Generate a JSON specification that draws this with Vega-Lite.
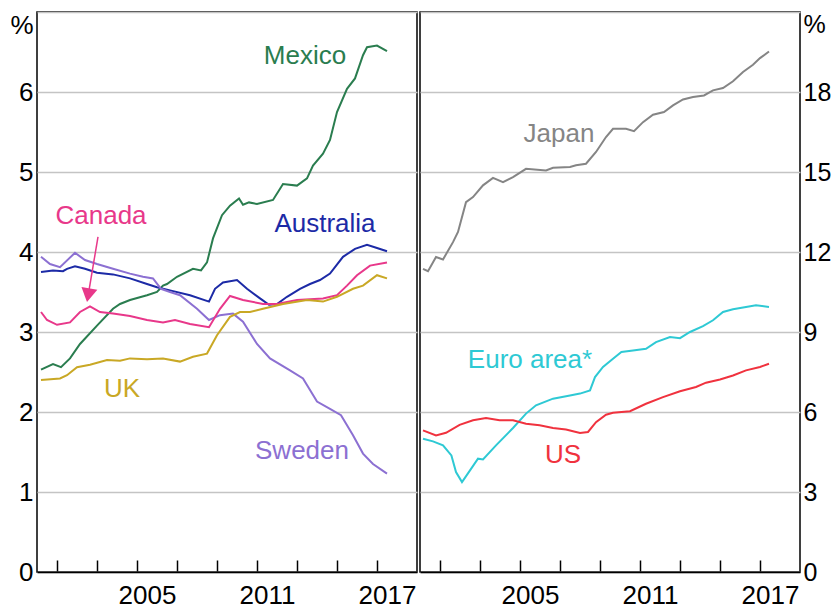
{
  "$schema": "https://vega.github.io/schema/vega-lite/v6.json",
  "padding": {"left": 9, "top": 11, "right": 0, "bottom": 0},
  "spacing": 0,
  "background": "white",
  "config": {
    "view": {"stroke": "#000000", "strokeWidth": 1.5},
    "font": "Liberation Sans",
    "axis": {"labelFont": "Liberation Sans", "labelFontSize": 26, "labelColor": "#000000", "title": null}
  },
  "datasets": {
    "left": [
      {"s":"Mexico","t":2000.2,"v":2.53},{"s":"Mexico","t":2000.8,"v":2.6},{"s":"Mexico","t":2001.2,"v":2.56},{"s":"Mexico","t":2001.65,"v":2.67},{"s":"Mexico","t":2002.15,"v":2.85},{"s":"Mexico","t":2003,"v":3.08},{"s":"Mexico","t":2003.8,"v":3.29},{"s":"Mexico","t":2004.15,"v":3.35},{"s":"Mexico","t":2004.65,"v":3.4},{"s":"Mexico","t":2005.5,"v":3.46},{"s":"Mexico","t":2006,"v":3.5},{"s":"Mexico","t":2006.3,"v":3.58},{"s":"Mexico","t":2006.5,"v":3.6},{"s":"Mexico","t":2007,"v":3.69},{"s":"Mexico","t":2007.8,"v":3.79},{"s":"Mexico","t":2008.2,"v":3.77},{"s":"Mexico","t":2008.5,"v":3.87},{"s":"Mexico","t":2008.8,"v":4.17},{"s":"Mexico","t":2009.25,"v":4.46},{"s":"Mexico","t":2009.65,"v":4.58},{"s":"Mexico","t":2010.1,"v":4.67},{"s":"Mexico","t":2010.3,"v":4.59},{"s":"Mexico","t":2010.6,"v":4.62},{"s":"Mexico","t":2011,"v":4.6},{"s":"Mexico","t":2011.8,"v":4.65},{"s":"Mexico","t":2012.3,"v":4.85},{"s":"Mexico","t":2013,"v":4.83},{"s":"Mexico","t":2013.5,"v":4.92},{"s":"Mexico","t":2013.8,"v":5.08},{"s":"Mexico","t":2014.3,"v":5.23},{"s":"Mexico","t":2014.65,"v":5.4},{"s":"Mexico","t":2015,"v":5.75},{"s":"Mexico","t":2015.5,"v":6.04},{"s":"Mexico","t":2015.9,"v":6.17},{"s":"Mexico","t":2016.3,"v":6.46},{"s":"Mexico","t":2016.5,"v":6.56},{"s":"Mexico","t":2017,"v":6.58},{"s":"Mexico","t":2017.5,"v":6.51},
      {"s":"Australia","t":2000.2,"v":3.75},{"s":"Australia","t":2000.8,"v":3.77},{"s":"Australia","t":2001.3,"v":3.76},{"s":"Australia","t":2001.5,"v":3.79},{"s":"Australia","t":2001.9,"v":3.82},{"s":"Australia","t":2002.4,"v":3.79},{"s":"Australia","t":2003,"v":3.74},{"s":"Australia","t":2003.8,"v":3.72},{"s":"Australia","t":2004.65,"v":3.67},{"s":"Australia","t":2005.5,"v":3.6},{"s":"Australia","t":2006,"v":3.56},{"s":"Australia","t":2006.65,"v":3.52},{"s":"Australia","t":2007.65,"v":3.46},{"s":"Australia","t":2008.6,"v":3.38},{"s":"Australia","t":2008.9,"v":3.54},{"s":"Australia","t":2009.3,"v":3.62},{"s":"Australia","t":2010,"v":3.65},{"s":"Australia","t":2010.5,"v":3.54},{"s":"Australia","t":2011.15,"v":3.42},{"s":"Australia","t":2011.6,"v":3.34},{"s":"Australia","t":2012,"v":3.35},{"s":"Australia","t":2012.5,"v":3.44},{"s":"Australia","t":2013.15,"v":3.54},{"s":"Australia","t":2013.65,"v":3.6},{"s":"Australia","t":2014.15,"v":3.65},{"s":"Australia","t":2014.65,"v":3.73},{"s":"Australia","t":2015.3,"v":3.94},{"s":"Australia","t":2015.9,"v":4.04},{"s":"Australia","t":2016.5,"v":4.09},{"s":"Australia","t":2017,"v":4.05},{"s":"Australia","t":2017.5,"v":4.01},
      {"s":"Sweden","t":2000.2,"v":3.94},{"s":"Sweden","t":2000.65,"v":3.85},{"s":"Sweden","t":2001.15,"v":3.81},{"s":"Sweden","t":2001.9,"v":3.99},{"s":"Sweden","t":2002.4,"v":3.9},{"s":"Sweden","t":2003,"v":3.85},{"s":"Sweden","t":2003.8,"v":3.79},{"s":"Sweden","t":2004.65,"v":3.73},{"s":"Sweden","t":2005.3,"v":3.69},{"s":"Sweden","t":2005.8,"v":3.67},{"s":"Sweden","t":2006.2,"v":3.54},{"s":"Sweden","t":2006.65,"v":3.5},{"s":"Sweden","t":2007.15,"v":3.46},{"s":"Sweden","t":2008,"v":3.29},{"s":"Sweden","t":2008.6,"v":3.15},{"s":"Sweden","t":2009.15,"v":3.21},{"s":"Sweden","t":2009.8,"v":3.23},{"s":"Sweden","t":2010.3,"v":3.13},{"s":"Sweden","t":2011,"v":2.85},{"s":"Sweden","t":2011.65,"v":2.67},{"s":"Sweden","t":2012.65,"v":2.52},{"s":"Sweden","t":2013.3,"v":2.42},{"s":"Sweden","t":2014,"v":2.13},{"s":"Sweden","t":2014.65,"v":2.04},{"s":"Sweden","t":2015.2,"v":1.96},{"s":"Sweden","t":2015.8,"v":1.71},{"s":"Sweden","t":2016.3,"v":1.48},{"s":"Sweden","t":2016.8,"v":1.35},{"s":"Sweden","t":2017.5,"v":1.23},
      {"s":"Canada","t":2000.2,"v":3.25},{"s":"Canada","t":2000.5,"v":3.15},{"s":"Canada","t":2001,"v":3.09},{"s":"Canada","t":2001.65,"v":3.12},{"s":"Canada","t":2002.15,"v":3.25},{"s":"Canada","t":2002.65,"v":3.32},{"s":"Canada","t":2003.15,"v":3.25},{"s":"Canada","t":2003.8,"v":3.23},{"s":"Canada","t":2004.65,"v":3.2},{"s":"Canada","t":2005.5,"v":3.15},{"s":"Canada","t":2006.3,"v":3.12},{"s":"Canada","t":2006.9,"v":3.15},{"s":"Canada","t":2007.65,"v":3.1},{"s":"Canada","t":2008.6,"v":3.06},{"s":"Canada","t":2009.15,"v":3.29},{"s":"Canada","t":2009.65,"v":3.45},{"s":"Canada","t":2010.3,"v":3.4},{"s":"Canada","t":2011.3,"v":3.35},{"s":"Canada","t":2012,"v":3.35},{"s":"Canada","t":2013,"v":3.4},{"s":"Canada","t":2014.3,"v":3.42},{"s":"Canada","t":2015,"v":3.46},{"s":"Canada","t":2015.5,"v":3.58},{"s":"Canada","t":2016,"v":3.71},{"s":"Canada","t":2016.65,"v":3.83},{"s":"Canada","t":2017.5,"v":3.87},
      {"s":"UK","t":2000.2,"v":2.4},{"s":"UK","t":2001.15,"v":2.42},{"s":"UK","t":2001.5,"v":2.46},{"s":"UK","t":2002,"v":2.56},{"s":"UK","t":2002.65,"v":2.59},{"s":"UK","t":2003.5,"v":2.65},{"s":"UK","t":2004.15,"v":2.64},{"s":"UK","t":2004.65,"v":2.67},{"s":"UK","t":2005.5,"v":2.66},{"s":"UK","t":2006.3,"v":2.67},{"s":"UK","t":2007.15,"v":2.63},{"s":"UK","t":2007.8,"v":2.69},{"s":"UK","t":2008.5,"v":2.73},{"s":"UK","t":2009,"v":2.96},{"s":"UK","t":2009.65,"v":3.19},{"s":"UK","t":2010.15,"v":3.25},{"s":"UK","t":2010.65,"v":3.25},{"s":"UK","t":2011.3,"v":3.29},{"s":"UK","t":2012.3,"v":3.35},{"s":"UK","t":2013.5,"v":3.4},{"s":"UK","t":2014.3,"v":3.38},{"s":"UK","t":2015,"v":3.44},{"s":"UK","t":2015.8,"v":3.54},{"s":"UK","t":2016.3,"v":3.58},{"s":"UK","t":2017,"v":3.71},{"s":"UK","t":2017.5,"v":3.67}
    ],
    "right": [
      {"s":"Japan","t":2000.15,"v":11.37},{"s":"Japan","t":2000.4,"v":11.28},{"s":"Japan","t":2000.8,"v":11.81},{"s":"Japan","t":2001.15,"v":11.72},{"s":"Japan","t":2001.65,"v":12.37},{"s":"Japan","t":2001.9,"v":12.75},{"s":"Japan","t":2002.3,"v":13.87},{"s":"Japan","t":2002.65,"v":14.06},{"s":"Japan","t":2003.15,"v":14.5},{"s":"Japan","t":2003.65,"v":14.78},{"s":"Japan","t":2004.15,"v":14.62},{"s":"Japan","t":2004.65,"v":14.81},{"s":"Japan","t":2005.3,"v":15.12},{"s":"Japan","t":2006.3,"v":15.06},{"s":"Japan","t":2006.65,"v":15.16},{"s":"Japan","t":2007.5,"v":15.19},{"s":"Japan","t":2007.8,"v":15.25},{"s":"Japan","t":2008.3,"v":15.31},{"s":"Japan","t":2008.8,"v":15.75},{"s":"Japan","t":2009.3,"v":16.31},{"s":"Japan","t":2009.65,"v":16.62},{"s":"Japan","t":2010.3,"v":16.62},{"s":"Japan","t":2010.7,"v":16.53},{"s":"Japan","t":2011.15,"v":16.87},{"s":"Japan","t":2011.65,"v":17.15},{"s":"Japan","t":2012.2,"v":17.25},{"s":"Japan","t":2012.65,"v":17.5},{"s":"Japan","t":2013.15,"v":17.72},{"s":"Japan","t":2013.65,"v":17.81},{"s":"Japan","t":2014.2,"v":17.87},{"s":"Japan","t":2014.65,"v":18.06},{"s":"Japan","t":2015.15,"v":18.15},{"s":"Japan","t":2015.65,"v":18.4},{"s":"Japan","t":2016.15,"v":18.75},{"s":"Japan","t":2016.65,"v":19.02},{"s":"Japan","t":2017,"v":19.27},{"s":"Japan","t":2017.45,"v":19.52},
      {"s":"Euro area*","t":2000.15,"v":5.0},{"s":"Euro area*","t":2000.65,"v":4.9},{"s":"Euro area*","t":2001.15,"v":4.75},{"s":"Euro area*","t":2001.57,"v":4.37},{"s":"Euro area*","t":2001.8,"v":3.75},{"s":"Euro area*","t":2002.1,"v":3.37},{"s":"Euro area*","t":2002.5,"v":3.81},{"s":"Euro area*","t":2002.9,"v":4.25},{"s":"Euro area*","t":2003.15,"v":4.22},{"s":"Euro area*","t":2003.8,"v":4.75},{"s":"Euro area*","t":2004.65,"v":5.4},{"s":"Euro area*","t":2005.3,"v":5.94},{"s":"Euro area*","t":2005.8,"v":6.25},{"s":"Euro area*","t":2006.65,"v":6.5},{"s":"Euro area*","t":2007.5,"v":6.62},{"s":"Euro area*","t":2008,"v":6.69},{"s":"Euro area*","t":2008.5,"v":6.81},{"s":"Euro area*","t":2008.75,"v":7.31},{"s":"Euro area*","t":2009.15,"v":7.69},{"s":"Euro area*","t":2009.65,"v":8.0},{"s":"Euro area*","t":2010.07,"v":8.25},{"s":"Euro area*","t":2010.65,"v":8.31},{"s":"Euro area*","t":2011.3,"v":8.37},{"s":"Euro area*","t":2011.8,"v":8.62},{"s":"Euro area*","t":2012.5,"v":8.81},{"s":"Euro area*","t":2013,"v":8.77},{"s":"Euro area*","t":2013.5,"v":9.0},{"s":"Euro area*","t":2014.15,"v":9.22},{"s":"Euro area*","t":2014.65,"v":9.44},{"s":"Euro area*","t":2015.15,"v":9.75},{"s":"Euro area*","t":2015.65,"v":9.85},{"s":"Euro area*","t":2016.3,"v":9.94},{"s":"Euro area*","t":2016.8,"v":10.0},{"s":"Euro area*","t":2017.45,"v":9.94},
      {"s":"US","t":2000.15,"v":5.31},{"s":"US","t":2000.8,"v":5.12},{"s":"US","t":2001.3,"v":5.22},{"s":"US","t":2001.98,"v":5.52},{"s":"US","t":2002.65,"v":5.69},{"s":"US","t":2003.3,"v":5.77},{"s":"US","t":2003.98,"v":5.69},{"s":"US","t":2004.65,"v":5.69},{"s":"US","t":2005.3,"v":5.56},{"s":"US","t":2005.98,"v":5.5},{"s":"US","t":2006.65,"v":5.4},{"s":"US","t":2007.3,"v":5.34},{"s":"US","t":2008,"v":5.21},{"s":"US","t":2008.4,"v":5.25},{"s":"US","t":2008.8,"v":5.62},{"s":"US","t":2009.3,"v":5.9},{"s":"US","t":2009.65,"v":5.97},{"s":"US","t":2010.5,"v":6.03},{"s":"US","t":2011.3,"v":6.31},{"s":"US","t":2012.15,"v":6.56},{"s":"US","t":2013,"v":6.78},{"s":"US","t":2013.8,"v":6.94},{"s":"US","t":2014.3,"v":7.1},{"s":"US","t":2015,"v":7.22},{"s":"US","t":2015.65,"v":7.37},{"s":"US","t":2016.3,"v":7.56},{"s":"US","t":2017,"v":7.69},{"s":"US","t":2017.45,"v":7.81}
    ],
    "leftLabels": [
      {"s":"Mexico","t":2013.4,"v":6.45},
      {"s":"Australia","t":2014.4,"v":4.35},
      {"s":"Canada","t":2003.2,"v":4.45},
      {"s":"UK","t":2004.25,"v":2.29},
      {"s":"Sweden","t":2013.25,"v":1.51}
    ],
    "rightLabels": [
      {"s":"Japan","t":2006.95,"v":16.42},
      {"s":"Euro area*","t":2005.5,"v":7.95},
      {"s":"US","t":2007.15,"v":4.39}
    ],
    "arrow": [
      {"s":"Canada","t":2003.05,"v":4.19,"t2":2002.56,"v2":3.46}
    ]
  },
  "hconcat": [
    {
      "width": 380,
      "height": 560,
      "layer": [
        {
          "data": {"name": "left"},
          "mark": {"type": "line", "strokeWidth": 2},
          "encoding": {
            "x": {"field": "t", "type": "quantitative",
              "scale": {"domain": [2000, 2019], "nice": false, "zero": false},
              "axis": {"orient": "bottom", "values": [2001,2002,2003,2004,2005,2006,2007,2008,2009,2010,2011,2012,2013,2014,2015,2016,2017,2018],
                "format": "d", "labelExpr": "(datum.value==2005||datum.value==2011||datum.value==2017)?datum.label:''",
                "labelOffset": 10, "labelFlush": false, "labelOverlap": false, "ticks": false,
                "grid": true, "gridColor": "#000000", "gridWidth": 1.5, "gridDash": [12, 548], "gridDashOffset": 12,
                "domainColor": "#000000", "domainWidth": 1.5, "labelPadding": 10}},
            "y": {"field": "v", "type": "quantitative",
              "scale": {"domain": [0, 7], "nice": false},
              "axis": {"orient": "left", "values": [0,1,2,3,4,5,6,7], "format": "d",
                "labelExpr": "datum.value==7?'%':datum.label",
                "labelBaseline": {"condition": {"test": "datum.value==7", "value": "top"}, "value": "middle"},
                "ticks": false, "domain": false, "grid": true, "gridColor": "#c4c4c4", "gridWidth": 1.5, "labelPadding": 4}},
            "color": {"field": "s", "type": "nominal",
              "scale": {"domain": ["Mexico","Australia","Canada","UK","Sweden","Japan","Euro area*","US"], "range": ["#2a7d4f","#1c2aa6","#e8388a","#c9a825","#8c70d2","#858585","#2ec9d4","#f0323e"]},
              "legend": null}
          }
        },
        {
          "data": {"name": "leftLabels"},
          "mark": {"type": "text", "fontSize": 26, "font": "Liberation Sans", "baseline": "middle", "align": "center"},
          "encoding": {
            "x": {"field": "t", "type": "quantitative"},
            "y": {"field": "v", "type": "quantitative"},
            "text": {"field": "s"},
            "color": {"field": "s", "type": "nominal",
              "scale": {"domain": ["Mexico","Australia","Canada","UK","Sweden","Japan","Euro area*","US"], "range": ["#2a7d4f","#1c2aa6","#e8388a","#c9a825","#8c70d2","#858585","#2ec9d4","#f0323e"]},
              "legend": null}
          }
        },
        {
          "data": {"name": "arrow"},
          "mark": {"type": "rule", "color": "#e8388a", "strokeWidth": 1.5},
          "encoding": {
            "x": {"field": "t", "type": "quantitative"},
            "y": {"field": "v", "type": "quantitative"},
            "x2": {"field": "t2"},
            "y2": {"field": "v2"}
          }
        },
        {
          "data": {"name": "arrow"},
          "mark": {"type": "point", "shape": "triangle-down", "filled": true, "color": "#e8388a", "size": 260, "angle": 10, "opacity": 1},
          "encoding": {
            "x": {"field": "t2", "type": "quantitative"},
            "y": {"field": "v2", "type": "quantitative"}
          }
        }
      ]
    },
    {
      "width": 380,
      "height": 560,
      "layer": [
        {
          "data": {"name": "right"},
          "mark": {"type": "line", "strokeWidth": 2},
          "encoding": {
            "x": {"field": "t", "type": "quantitative",
              "scale": {"domain": [2000, 2019], "nice": false, "zero": false},
              "axis": {"orient": "bottom", "values": [2001,2002,2003,2004,2005,2006,2007,2008,2009,2010,2011,2012,2013,2014,2015,2016,2017,2018],
                "format": "d", "labelExpr": "(datum.value==2005||datum.value==2011||datum.value==2017)?datum.label:''",
                "labelOffset": 10, "labelFlush": false, "labelOverlap": false, "ticks": false,
                "grid": true, "gridColor": "#000000", "gridWidth": 1.5, "gridDash": [12, 548], "gridDashOffset": 12,
                "domainColor": "#000000", "domainWidth": 1.5, "labelPadding": 10}},
            "y": {"field": "v", "type": "quantitative",
              "scale": {"domain": [0, 21], "nice": false},
              "axis": {"orient": "right", "values": [0,3,6,9,12,15,18,21], "format": "d",
                "labelExpr": "datum.value==21?'%':datum.label", "labelFontSize": 25,
                "labelBaseline": {"condition": {"test": "datum.value==21", "value": "top"}, "value": "middle"},
                "ticks": false, "domain": false, "grid": true, "gridColor": "#c4c4c4", "gridWidth": 1.5, "labelPadding": 3}},
            "color": {"field": "s", "type": "nominal",
              "scale": {"domain": ["Mexico","Australia","Canada","UK","Sweden","Japan","Euro area*","US"], "range": ["#2a7d4f","#1c2aa6","#e8388a","#c9a825","#8c70d2","#858585","#2ec9d4","#f0323e"]},
              "legend": null}
          }
        },
        {
          "data": {"name": "rightLabels"},
          "mark": {"type": "text", "fontSize": 26, "font": "Liberation Sans", "baseline": "middle", "align": "center"},
          "encoding": {
            "x": {"field": "t", "type": "quantitative"},
            "y": {"field": "v", "type": "quantitative"},
            "text": {"field": "s"},
            "color": {"field": "s", "type": "nominal",
              "scale": {"domain": ["Mexico","Australia","Canada","UK","Sweden","Japan","Euro area*","US"], "range": ["#2a7d4f","#1c2aa6","#e8388a","#c9a825","#8c70d2","#858585","#2ec9d4","#f0323e"]},
              "legend": null}
          }
        }
      ]
    }
  ]
}
